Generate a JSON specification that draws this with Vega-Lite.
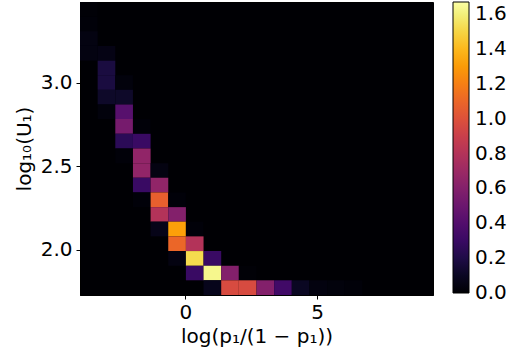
{
  "$schema": "https://vega.github.io/schema/vega-lite/v6.json",
  "autosize": "none",
  "width": 353,
  "height": 293,
  "padding": {"left": 80, "top": 2, "right": 78, "bottom": 59},
  "background": "white",
  "config": {
    "font": "DejaVu Sans",
    "view": {"fill": "#000004", "stroke": "black", "strokeWidth": 1},
    "axis": {"grid": false, "domainColor": "black", "tickColor": "black", "tickSize": 4, "labelFontSize": 20, "titleFontSize": 20, "labelColor": "black", "titleColor": "black", "titleFontWeight": "normal", "labelFont": "DejaVu Sans", "titleFont": "DejaVu Sans"}
  },
  "data": {
    "values": [
      {"x1": -4.0, "x2": -3.33, "y1": 3.397, "y2": 3.484, "v": 0.01},
      {"x1": -4.0, "x2": -3.33, "y1": 3.309, "y2": 3.397, "v": 0.02},
      {"x1": -4.0, "x2": -3.33, "y1": 3.221, "y2": 3.309, "v": 0.05},
      {"x1": -4.0, "x2": -3.33, "y1": 3.133, "y2": 3.221, "v": 0.05},
      {"x1": -3.33, "x2": -2.66, "y1": 3.133, "y2": 3.221, "v": 0.06},
      {"x1": -3.33, "x2": -2.66, "y1": 3.046, "y2": 3.133, "v": 0.18},
      {"x1": -3.33, "x2": -2.66, "y1": 2.958, "y2": 3.046, "v": 0.18},
      {"x1": -2.66, "x2": -1.99, "y1": 2.958, "y2": 3.046, "v": 0.03},
      {"x1": -3.33, "x2": -2.66, "y1": 2.870, "y2": 2.958, "v": 0.12},
      {"x1": -2.66, "x2": -1.99, "y1": 2.870, "y2": 2.958, "v": 0.12},
      {"x1": -3.33, "x2": -2.66, "y1": 2.783, "y2": 2.870, "v": 0.03},
      {"x1": -2.66, "x2": -1.99, "y1": 2.783, "y2": 2.870, "v": 0.42},
      {"x1": -2.66, "x2": -1.99, "y1": 2.695, "y2": 2.783, "v": 0.55},
      {"x1": -1.99, "x2": -1.32, "y1": 2.695, "y2": 2.783, "v": 0.02},
      {"x1": -2.66, "x2": -1.99, "y1": 2.607, "y2": 2.695, "v": 0.25},
      {"x1": -1.99, "x2": -1.32, "y1": 2.607, "y2": 2.695, "v": 0.3},
      {"x1": -2.66, "x2": -1.99, "y1": 2.519, "y2": 2.607, "v": 0.02},
      {"x1": -1.99, "x2": -1.32, "y1": 2.519, "y2": 2.607, "v": 0.66},
      {"x1": -1.99, "x2": -1.32, "y1": 2.432, "y2": 2.519, "v": 0.66},
      {"x1": -1.32, "x2": -0.65, "y1": 2.432, "y2": 2.519, "v": 0.05},
      {"x1": -1.99, "x2": -1.32, "y1": 2.344, "y2": 2.432, "v": 0.3},
      {"x1": -1.32, "x2": -0.65, "y1": 2.344, "y2": 2.432, "v": 0.66},
      {"x1": -1.99, "x2": -1.32, "y1": 2.256, "y2": 2.344, "v": 0.02},
      {"x1": -1.32, "x2": -0.65, "y1": 2.256, "y2": 2.344, "v": 1.07},
      {"x1": -0.65, "x2": 0.02, "y1": 2.256, "y2": 2.344, "v": 0.02},
      {"x1": -1.32, "x2": -0.65, "y1": 2.169, "y2": 2.256, "v": 0.8},
      {"x1": -0.65, "x2": 0.02, "y1": 2.169, "y2": 2.256, "v": 0.6},
      {"x1": -1.32, "x2": -0.65, "y1": 2.081, "y2": 2.169, "v": 0.07},
      {"x1": -0.65, "x2": 0.02, "y1": 2.081, "y2": 2.169, "v": 1.32},
      {"x1": 0.02, "x2": 0.69, "y1": 2.081, "y2": 2.169, "v": 0.02},
      {"x1": -0.65, "x2": 0.02, "y1": 1.993, "y2": 2.081, "v": 1.1},
      {"x1": 0.02, "x2": 0.69, "y1": 1.993, "y2": 2.081, "v": 0.8},
      {"x1": -0.65, "x2": 0.02, "y1": 1.905, "y2": 1.993, "v": 0.05},
      {"x1": 0.02, "x2": 0.69, "y1": 1.905, "y2": 1.993, "v": 1.52},
      {"x1": 0.69, "x2": 1.36, "y1": 1.905, "y2": 1.993, "v": 0.3},
      {"x1": 0.02, "x2": 0.69, "y1": 1.818, "y2": 1.905, "v": 0.3},
      {"x1": 0.69, "x2": 1.36, "y1": 1.818, "y2": 1.905, "v": 1.63},
      {"x1": 1.36, "x2": 2.03, "y1": 1.818, "y2": 1.905, "v": 0.6},
      {"x1": 2.03, "x2": 2.70, "y1": 1.818, "y2": 1.905, "v": 0.01},
      {"x1": 0.69, "x2": 1.36, "y1": 1.730, "y2": 1.818, "v": 0.08},
      {"x1": 1.36, "x2": 2.03, "y1": 1.730, "y2": 1.818, "v": 0.97},
      {"x1": 2.03, "x2": 2.70, "y1": 1.730, "y2": 1.818, "v": 0.97},
      {"x1": 2.70, "x2": 3.37, "y1": 1.730, "y2": 1.818, "v": 0.6},
      {"x1": 3.37, "x2": 4.04, "y1": 1.730, "y2": 1.818, "v": 0.33},
      {"x1": 4.04, "x2": 4.71, "y1": 1.730, "y2": 1.818, "v": 0.1},
      {"x1": 4.71, "x2": 5.38, "y1": 1.730, "y2": 1.818, "v": 0.04},
      {"x1": 5.38, "x2": 6.05, "y1": 1.730, "y2": 1.818, "v": 0.03},
      {"x1": 6.05, "x2": 6.72, "y1": 1.730, "y2": 1.818, "v": 0.02}
    ]
  },
  "mark": {"type": "rect", "strokeWidth": 0},
  "encoding": {
    "x": {
      "field": "x1", "type": "quantitative",
      "scale": {"domain": [-4.0, 9.4], "nice": false, "zero": false},
      "axis": {"values": [0, 5], "format": "d", "title": "log(p₁/(1 − p₁))", "labelPadding": 3, "titlePadding": 4}
    },
    "x2": {"field": "x2"},
    "y": {
      "field": "y1", "type": "quantitative",
      "scale": {"domain": [1.73, 3.484], "nice": false, "zero": false},
      "axis": {"values": [2.0, 2.5, 3.0], "format": ".1f", "title": "log₁₀(U₁)", "labelPadding": 4, "titlePadding": 6}
    },
    "y2": {"field": "y2"},
    "color": {
      "field": "v", "type": "quantitative",
      "scale": {"scheme": "inferno", "domain": [0, 1.67]},
      "legend": {
        "title": null,
        "orient": "right",
        "offset": 20,
        "padding": 0,
        "gradientLength": 291,
        "gradientThickness": 16,
        "gradientStrokeColor": "black",
        "gradientStrokeWidth": 1,
        "values": [0, 0.2, 0.4, 0.6, 0.8, 1.0, 1.2, 1.4, 1.6],
        "format": ".1f",
        "labelFontSize": 20,
        "labelFont": "DejaVu Sans",
        "labelColor": "black",
        "labelBaseline": "middle",
        "labelOffset": 6,
        "labelOverlap": false,
        "encode": {"labels": {"update": {"baseline": {"value": "middle"}}}}
      }
    }
  }
}
